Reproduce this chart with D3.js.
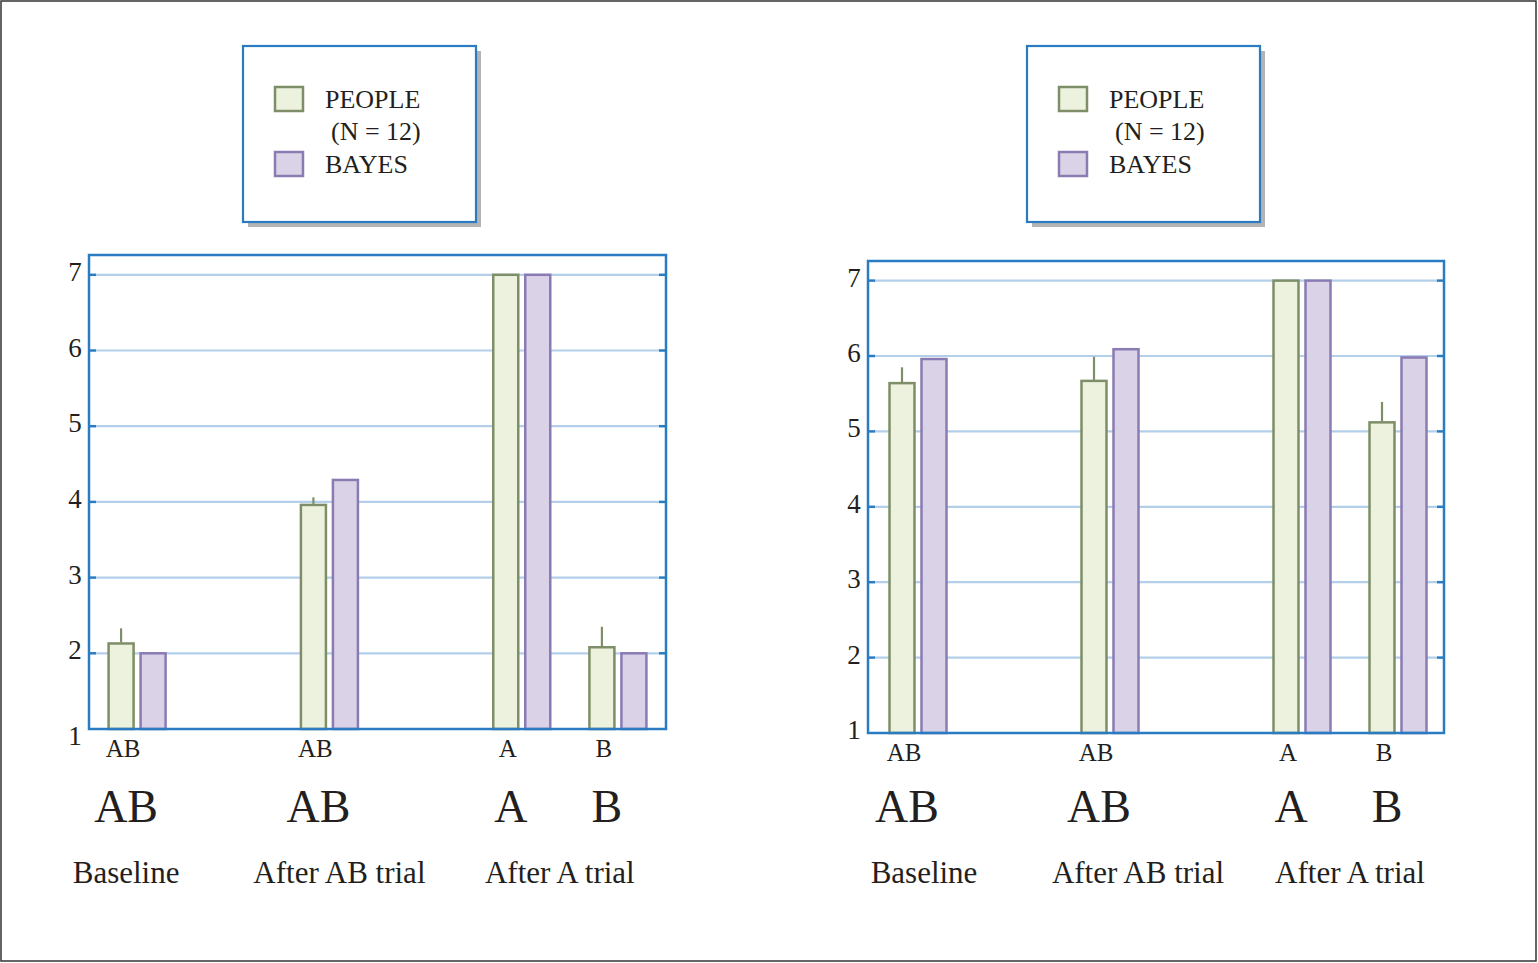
<!DOCTYPE html>
<html>
<head>
<meta charset="utf-8">
<script src="https://cdn.jsdelivr.net/npm/d3@7/dist/d3.min.js"></script>
<style>
  html, body { margin: 0; padding: 0; background: #ffffff; }
  svg { display: block; }
  text { font-family: "Liberation Serif", "Times New Roman", serif; fill: #231f20; }
</style>
</head>
<body>
<svg id="chart" width="1538" height="963"></svg>
<script>
// ---------------- DATA ----------------
const groups = ["Baseline", "After AB trial", "After A trial"];
const conditions = ["AB", "AB", "A", "B"];
const conditionGroup = [0, 1, 2, 2];
const seriesNames = ["PEOPLE", "BAYES"];
const legendNote = "(N = 12)";
const yTicks = [1, 2, 3, 4, 5, 6, 7];

// Left panel
const leftPeople    = [2.13, 3.96, 7.0, 2.08];
const leftPeopleErr = [2.33, 4.06, 7.0, 2.35];
const leftBayes     = [2.0, 4.29, 7.0, 2.0];

// Right panel
const rightPeople    = [5.64, 5.67, 7.0, 5.12];
const rightPeopleErr = [5.85, 5.99, 7.0, 5.39];
const rightBayes     = [5.96, 6.09, 7.0, 5.98];

// ---------------- STYLE ----------------
const C = {
  frame: "#2a7cc2",
  grid: "#b3cfea",
  peopleFill: "#edf2de",
  peopleStroke: "#7e8e68",
  bayesFill: "#dad2e6",
  bayesStroke: "#8a7cb3",
  text: "#231f20",
  shadow: "#b4b4b4"
};

const svg = d3.select("#chart");

// outer border
svg.append("rect").attr("x", 1).attr("y", 1).attr("width", 1535).attr("height", 960)
  .attr("fill", "none").attr("stroke", "#333").attr("stroke-width", 1.5);

// slots: each condition occupies a slot, one empty slot between groups
const slots = [];
const condSlot = [];
conditions.forEach((c, i) => {
  if (i > 0 && conditionGroup[i] !== conditionGroup[i - 1]) slots.push("gap" + i);
  condSlot.push("c" + i);
  slots.push("c" + i);
});

function drawPanel(p) {
  const g = svg.append("g");
  const x = d3.scaleBand().domain(slots).range([p.x0 + p.bandShift, p.x1 + p.bandShift]);
  const y = d3.scaleLinear().domain([1, 7]).range([p.yBottom, p.yBottom - 6 * p.unit]);
  const cx = i => x(condSlot[i]) + x.bandwidth() / 2;

  // gridlines (2..7)
  const gridTicks = yTicks.filter(t => t > 1);
  g.selectAll(".grid").data(gridTicks).join("line")
    .attr("x1", p.x0 + 7).attr("x2", p.x1 - 7)
    .attr("y1", d => y(d)).attr("y2", d => y(d))
    .attr("stroke", C.grid).attr("stroke-width", 2.2);
  g.selectAll(".tl").data(gridTicks).join("line")
    .attr("x1", p.x0).attr("x2", p.x0 + 7)
    .attr("y1", d => y(d)).attr("y2", d => y(d))
    .attr("stroke", C.frame).attr("stroke-width", 2.5);
  g.selectAll(".tr").data(gridTicks).join("line")
    .attr("x1", p.x1 - 7).attr("x2", p.x1)
    .attr("y1", d => y(d)).attr("y2", d => y(d))
    .attr("stroke", C.frame).attr("stroke-width", 2.5);

  // y tick labels
  g.selectAll(".yl").data(yTicks).join("text")
    .attr("x", p.x0 - 14)
    .attr("y", d => y(d) + (d === 1 ? p.oneDy : 6))
    .attr("text-anchor", "middle")
    .attr("font-size", 27)
    .text(d => d);

  // bars
  const idx = d3.range(conditions.length);
  g.selectAll(".bp").data(idx).join("rect")
    .attr("x", i => cx(i) - 28.5).attr("width", 25)
    .attr("y", i => y(p.people[i])).attr("height", i => y(1) - y(p.people[i]))
    .attr("fill", C.peopleFill).attr("stroke", C.peopleStroke).attr("stroke-width", 2.5);
  g.selectAll(".bb").data(idx).join("rect")
    .attr("x", i => cx(i) + 3.5).attr("width", 25)
    .attr("y", i => y(p.bayes[i])).attr("height", i => y(1) - y(p.bayes[i]))
    .attr("fill", C.bayesFill).attr("stroke", C.bayesStroke).attr("stroke-width", 2.5);
  // error bars
  g.selectAll(".eb").data(idx.filter(i => p.err[i] > p.people[i])).join("line")
    .attr("x1", i => cx(i) - 16).attr("x2", i => cx(i) - 16)
    .attr("y1", i => y(p.people[i]) - 1).attr("y2", i => y(p.err[i]))
    .attr("stroke", C.peopleStroke).attr("stroke-width", 2.2);

  // frame
  g.append("rect").attr("x", p.x0).attr("y", p.yTop)
    .attr("width", p.x1 - p.x0).attr("height", p.yBottom - p.yTop)
    .attr("fill", "none").attr("stroke", C.frame).attr("stroke-width", 2.5);

  // small condition labels
  g.selectAll(".sl").data(idx).join("text")
    .attr("x", i => cx(i) - 14).attr("y", p.yBottom + 28)
    .attr("text-anchor", "middle").attr("font-size", 25)
    .text(i => conditions[i]);
  // big condition labels
  g.selectAll(".bl").data(idx).join("text")
    .attr("x", i => cx(i) - 11).attr("y", 822)
    .attr("text-anchor", "middle").attr("font-size", 46)
    .text(i => conditions[i]);
  // group labels
  g.selectAll(".gl").data(groups).join("text")
    .attr("x", (d, gi) => {
      const members = idx.filter(i => conditionGroup[i] === gi);
      return d3.mean(members, cx) + p.groupShift[gi];
    })
    .attr("y", 883).attr("text-anchor", "middle").attr("font-size", 31)
    .text(d => d);

  // legend
  const L = g.append("g").attr("transform", `translate(${p.legendX},46)`);
  L.append("rect").attr("x", 5).attr("y", 5).attr("width", 233).attr("height", 176).attr("fill", C.shadow);
  L.append("rect").attr("x", 0).attr("y", 0).attr("width", 233).attr("height", 176)
    .attr("fill", "#fff").attr("stroke", C.frame).attr("stroke-width", 2.2);
  const sw = [
    {fill: C.peopleFill, stroke: C.peopleStroke, y: 41, label: seriesNames[0], ty: 62},
    {fill: C.bayesFill, stroke: C.bayesStroke, y: 106, label: seriesNames[1], ty: 127}
  ];
  L.selectAll(".sw").data(sw).join("rect")
    .attr("x", 32).attr("y", d => d.y).attr("width", 28).attr("height", 24)
    .attr("fill", d => d.fill).attr("stroke", d => d.stroke).attr("stroke-width", 2.5);
  L.selectAll(".st").data(sw).join("text")
    .attr("x", 82).attr("y", d => d.ty).attr("font-size", 26)
    .text(d => d.label);
  L.append("text").attr("x", 88).attr("y", 94).attr("font-size", 26).text(legendNote);
}

drawPanel({x0: 89, x1: 666, yTop: 255, yBottom: 729, unit: 75.7, bandShift: 0, oneDy: 16,
  groupShift: [-11, 10, -10],
  people: leftPeople, err: leftPeopleErr, bayes: leftBayes, legendX: 243});
drawPanel({x0: 868, x1: 1444, yTop: 261, yBottom: 733, unit: 75.4, bandShift: 2, oneDy: 6,
  groupShift: [6, 28, 0],
  people: rightPeople, err: rightPeopleErr, bayes: rightBayes, legendX: 1027});
</script>
</body>
</html>
